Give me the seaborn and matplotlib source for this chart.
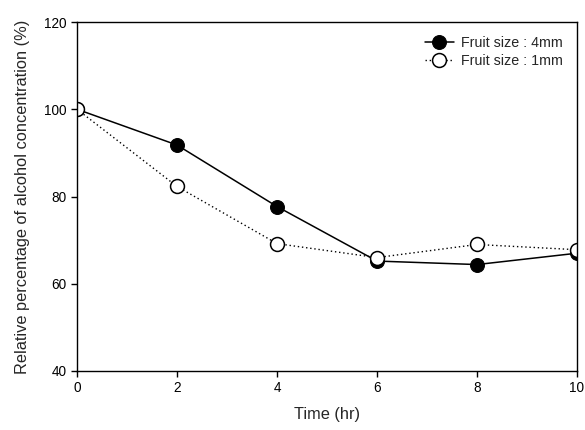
import matplotlib
matplotlib.use("Agg")
import matplotlib.pyplot as plt
import seaborn as sns
import pandas as pd

time_hr = [0, 2, 4, 6, 8, 10]
size_4mm = [100.0, 91.8, 77.7, 65.2, 64.4, 67.0]
size_1mm = [100.0, 82.3, 69.2, 66.0, 69.0, 67.8]
x_ticks = [0, 2, 4, 6, 8, 10]
y_ticks = [40, 60, 80, 100, 120]

sns.set_style("ticks")
plt.rcParams['font.family'] = ['Liberation Sans', 'DejaVu Sans']

fig = plt.figure(figsize=(5.85, 4.30), dpi=100)
ax = fig.add_axes([77/585, 1-371/430, 500/585, 349/430])

df4 = pd.DataFrame({"t": time_hr, "v": size_4mm})
df1 = pd.DataFrame({"t": time_hr, "v": size_1mm})

sns.lineplot(data=df4, x="t", y="v", ax=ax, color="black", linestyle="-", linewidth=1.1,
             marker="o", markersize=10, markerfacecolor="black", markeredgecolor="black",
             label="Fruit size : 4mm")
sns.lineplot(data=df1, x="t", y="v", ax=ax, color="black", linestyle=(0, (1, 2)), linewidth=1.0,
             marker="o", markersize=10, markerfacecolor="white", markeredgecolor="black",
             markeredgewidth=1.1, label="Fruit size : 1mm")

ax.set_xlim(0, 10)
ax.set_ylim(40, 120)
ax.set_xticks(x_ticks)
ax.set_yticks(y_ticks)
ax.tick_params(direction="out", length=4, width=1, labelsize=9.8, colors="black")
for s in ax.spines.values():
    s.set_linewidth(1.0)
    s.set_color("black")
ax.set_xlabel("Time (hr)", fontsize=11.8, labelpad=8)
ax.set_ylabel("Relative percentage of alcohol concentration (%)", fontsize=11.8, labelpad=10)

leg = ax.legend(loc="upper right", frameon=False, fontsize=10.3, handlelength=2.0,
                handletextpad=0.5, borderaxespad=0.6, labelspacing=0.25)

fig.savefig("out.png", dpi=100)
